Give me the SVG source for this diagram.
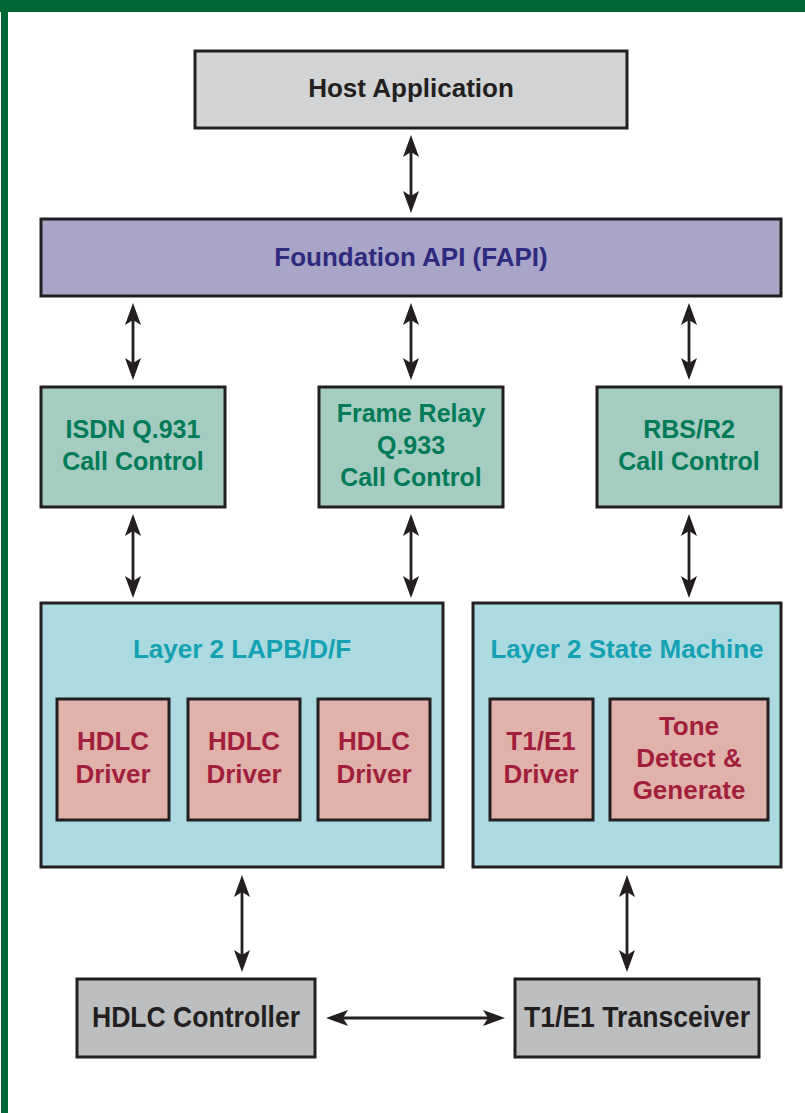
<svg xmlns="http://www.w3.org/2000/svg" width="805" height="1113" viewBox="0 0 805 1113">
<style>
text{font-family:"Liberation Sans",Arial,Helvetica,sans-serif;font-weight:bold;text-anchor:middle}
.box{stroke:#231f20;stroke-width:3}
.grey{fill:#d1d3d4}
.api{fill:#a9a5c8}
.cc{fill:#a5ccc1}
.l2{fill:#abdae1}
.drv{fill:#e1b1ac}
.hw{fill:#bcbec0}
.t-dark{fill:#231f20;font-size:26px}
.t-api{fill:#2e2a7e;font-size:26px}
.t-cc{fill:#007b57;font-size:25px}
.t-l2{fill:#14a1b3;font-size:26px}
.t-drv{fill:#a11f3d;font-size:26px}
.t-hw{fill:#231f20;font-size:30px}
.conn line{stroke:#231f20;stroke-width:2.8;marker-start:url(#ah);marker-end:url(#ah)}
</style>
<defs>
<marker id="ah" markerUnits="userSpaceOnUse" viewBox="0 0 22 16" markerWidth="22" markerHeight="16" refX="11" refY="8" orient="auto-start-reverse">
<path d="M0,0 L22,8 L0,16 L5,8 Z" fill="#231f20"/>
</marker>
</defs>
<rect x="0" y="0" width="805" height="1113" fill="#ffffff"/>
<rect x="0" y="0" width="805" height="12" fill="#006633"/>
<rect x="1" y="0" width="7" height="1113" fill="#006633"/>

<g id="host">
<rect class="box grey" x="195" y="51" width="432" height="77"/>
<text class="t-dark" x="411" y="97">Host Application</text>
</g>
<g id="fapi">
<rect class="box api" x="41" y="219" width="740" height="77"/>
<text class="t-api" x="411" y="266">Foundation API (FAPI)</text>
</g>
<g id="isdn">
<rect class="box cc" x="41" y="387" width="184" height="120"/>
<text class="t-cc" x="133" y="438">ISDN Q.931</text>
<text class="t-cc" x="133" y="470">Call Control</text>
</g>
<g id="framerelay">
<rect class="box cc" x="319" y="387" width="184" height="120"/>
<text class="t-cc" x="411" y="422">Frame Relay</text>
<text class="t-cc" x="411" y="454">Q.933</text>
<text class="t-cc" x="411" y="486">Call Control</text>
</g>
<g id="rbs">
<rect class="box cc" x="597" y="387" width="184" height="120"/>
<text class="t-cc" x="689" y="438">RBS/R2</text>
<text class="t-cc" x="689" y="470">Call Control</text>
</g>
<g id="lapb">
<rect class="box l2" x="41" y="603" width="402" height="264"/>
<text class="t-l2" x="242" y="658">Layer 2 LAPB/D/F</text>
</g>
<g id="hdlc1">
<rect class="box drv" x="57" y="699" width="112" height="121"/>
<text class="t-drv" x="113" y="750">HDLC</text>
<text class="t-drv" x="113" y="783">Driver</text>
</g>
<g id="hdlc2">
<rect class="box drv" x="188" y="699" width="112" height="121"/>
<text class="t-drv" x="244" y="750">HDLC</text>
<text class="t-drv" x="244" y="783">Driver</text>
</g>
<g id="hdlc3">
<rect class="box drv" x="318" y="699" width="112" height="121"/>
<text class="t-drv" x="374" y="750">HDLC</text>
<text class="t-drv" x="374" y="783">Driver</text>
</g>
<g id="statemachine">
<rect class="box l2" x="473" y="603" width="308" height="264"/>
<text class="t-l2" x="627" y="658">Layer 2 State Machine</text>
</g>
<g id="t1driver">
<rect class="box drv" x="490" y="699" width="103" height="121"/>
<text class="t-drv" x="541" y="750">T1/E1</text>
<text class="t-drv" x="541" y="783">Driver</text>
</g>
<g id="tone">
<rect class="box drv" x="610" y="699" width="158" height="121"/>
<text class="t-drv" x="689" y="735">Tone</text>
<text class="t-drv" x="689" y="767">Detect &amp;</text>
<text class="t-drv" x="689" y="799">Generate</text>
</g>
<g id="hdlcctrl">
<rect class="box hw" x="77" y="979" width="238" height="78"/>
<text class="t-hw" x="196" y="1027" textLength="208" lengthAdjust="spacingAndGlyphs">HDLC Controller</text>
</g>
<g id="transceiver">
<rect class="box hw" x="515" y="979" width="244" height="78"/>
<text class="t-hw" x="637" y="1027" textLength="226" lengthAdjust="spacingAndGlyphs">T1/E1 Transceiver</text>
</g>

<g id="connectors" class="conn">
<line x1="411" y1="146" x2="411" y2="202"/>
<line x1="133" y1="314" x2="133" y2="369"/>
<line x1="411" y1="314" x2="411" y2="369"/>
<line x1="689" y1="314" x2="689" y2="369"/>
<line x1="133" y1="525" x2="133" y2="587"/>
<line x1="411" y1="525" x2="411" y2="587"/>
<line x1="689" y1="525" x2="689" y2="587"/>
<line x1="242" y1="886" x2="242" y2="961"/>
<line x1="627" y1="886" x2="627" y2="961"/>
<line x1="337" y1="1018" x2="494" y2="1018"/>
</g>
</svg>
